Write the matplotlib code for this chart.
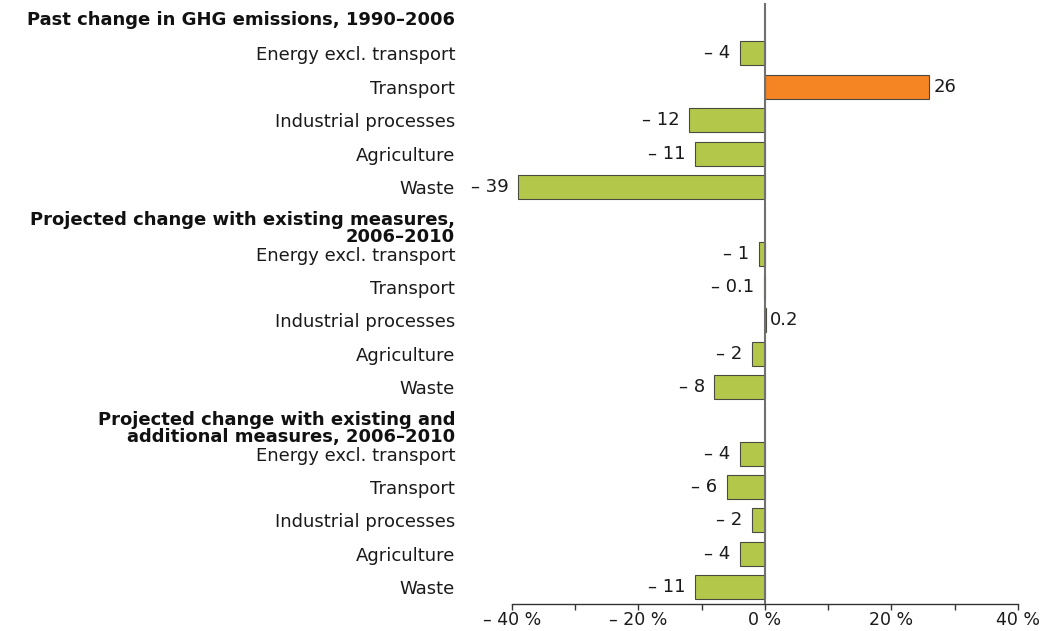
import matplotlib.pyplot as plt
from matplotlib.ticker import MultipleLocator
import matplotlib.transforms as mtransforms

plt.rcParams['font.family'] = ['DejaVu Sans']

# datos
groups = [
    "Past change in GHG emissions, 1990\u20132006",
    "Projected change with existing measures,\n2006\u20132010",
    "Projected change with existing and\nadditional measures, 2006\u20132010",
]
sectors = ["Energy excl. transport", "Transport", "Industrial processes", "Agriculture", "Waste"]
past = [-4, 26, -12, -11, -39]
existing = [-1, -0.1, 0.2, -2, -8]
additional = [-4, -6, -2, -4, -11]
value_labels = [
    ["\u2013 4", "26", "\u2013 12", "\u2013 11", "\u2013 39"],
    ["\u2013 1", "\u2013 0.1", "0.2", "\u2013 2", "\u2013 8"],
    ["\u2013 4", "\u2013 6", "\u2013 2", "\u2013 4", "\u2013 11"],
]
xticks = [-40, -20, 0, 20, 40]
xtick_labels = ["\u2013 40 %", "\u2013 20 %", "0 %", "20 %", "40 %"]

green = '#b3c84a'
orange = '#f58423'
edge = '#4a4a40'
fs = 13

fig = plt.figure(figsize=(10.45, 6.31), dpi=100)
ax = fig.add_axes([0.49, 0.043, 0.484, 0.9516])

ytick_pos = []
ytick_lab = []
row = 0
header_rows = []
for g, vals, labs in zip(groups, [past, existing, additional], value_labels):
    header_rows.append((row, g))
    row += 1
    for s, v, lab in zip(sectors, vals, labs):
        color = orange if v > 5 else green
        ax.barh(row, v, height=0.72, color=color, edgecolor=edge, linewidth=0.8, zorder=2)
        if v >= 0:
            ax.annotate(lab, (v, row), xytext=(3, 0), textcoords='offset points',
                        ha='left', va='center', fontsize=fs, color='#1a1a1a')
        else:
            ax.annotate(lab, (v, row), xytext=(-7, 0), textcoords='offset points',
                        ha='right', va='center', fontsize=fs, color='#1a1a1a')
        ytick_pos.append(row)
        ytick_lab.append(s)
        row += 1

ax.set_ylim(row - 0.5, -0.5)
ax.set_xlim(-40, 40)
ax.set_yticks(ytick_pos)
ax.set_yticklabels(ytick_lab, fontsize=fs, color='#1a1a1a')
ax.tick_params(axis='y', length=0, pad=41)

trans = mtransforms.blended_transform_factory(ax.transAxes, ax.transData)
offset = mtransforms.ScaledTranslation(-41 / 72, 0, fig.dpi_scale_trans)
for r, g in header_rows:
    ax.text(0, r + 0.25 if "\n" in g else r, g, transform=trans + offset, ha='right', va='center',
            fontsize=fs, fontweight='bold', color='#111111', linespacing=0.95)

ax.set_xticks(xticks)
ax.set_xticklabels(xtick_labels, fontsize=12.5, color='#1a1a1a')
ax.xaxis.set_minor_locator(MultipleLocator(10))
ax.tick_params(axis='x', which='both', length=4, width=1, color='#333333', direction='out', pad=1)

ax.axvline(0, color='#707070', linewidth=1.5, zorder=3)
for side in ['top', 'right', 'left']:
    ax.spines[side].set_visible(False)
ax.spines['bottom'].set_color('#333333')
ax.spines['bottom'].set_linewidth(1)

fig.savefig('out.png', dpi=100)
